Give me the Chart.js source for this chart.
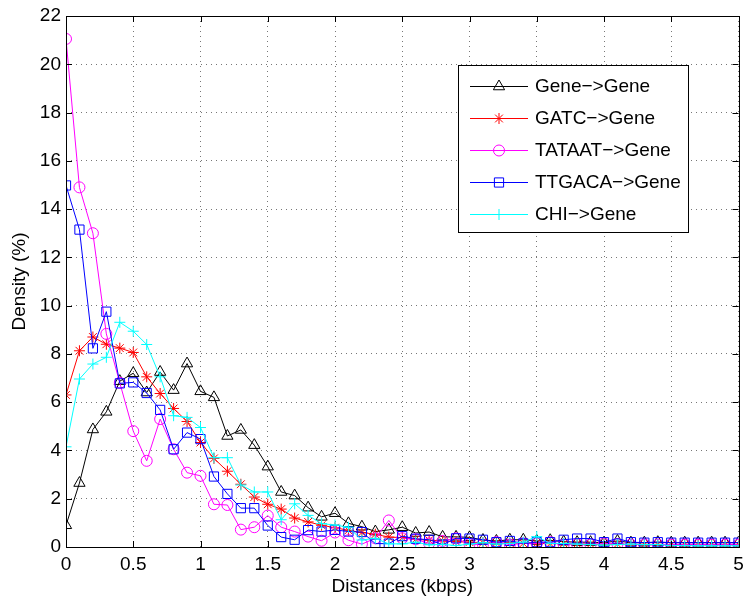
<!DOCTYPE html>
<html>
<head>
<meta charset="utf-8">
<script src="https://cdn.jsdelivr.net/npm/chart.js@4.4.0/dist/chart.umd.min.js"></script>
<style>
  html, body { margin: 0; padding: 0; background: #fff; }
</style>
</head>
<body>
<canvas id="myChart" width="746" height="598"></canvas>
<script>
// distance bins (kbps)
const distances = [
  0, 0.1, 0.2, 0.3, 0.4, 0.5, 0.6, 0.7, 0.8, 0.9,
  1, 1.1, 1.2, 1.3, 1.4, 1.5, 1.6, 1.7, 1.8, 1.9,
  2, 2.1, 2.2, 2.3, 2.4, 2.5, 2.6, 2.7, 2.8, 2.9,
  3, 3.1, 3.2, 3.3, 3.4, 3.5, 3.6, 3.7, 3.8, 3.9,
  4, 4.1, 4.2, 4.3, 4.4, 4.5, 4.6, 4.7, 4.8, 4.9,
  5
];

// density (%) per series
const geneGene = [
  0.9, 2.65, 4.87, 5.6, 6.87, 7.2, 6.4, 7.25, 6.5, 7.6,
  6.45, 6.2, 4.6, 4.85, 4.22, 3.33, 2.28, 2.13, 1.63, 1.25,
  1.4, 0.98, 0.84, 0.64, 0.71, 0.82, 0.58, 0.62, 0.42, 0.42,
  0.4, 0.29, 0.25, 0.3, 0.3, 0.25, 0.28, 0.22, 0.2, 0.2,
  0.18, 0.25, 0.18, 0.18, 0.2, 0.18, 0.18, 0.18, 0.18, 0.18,
  0.18
];
const gatcGene = [
  6.3, 8.13, 8.7, 8.4, 8.24, 8.06, 7.05, 6.36, 5.74, 5.2,
  4.33, 3.67, 3.14, 2.6, 2.07, 1.77, 1.57, 1.2, 1.04, 0.9,
  0.8, 0.69, 0.6, 0.53, 0.41, 0.39, 0.32, 0.28, 0.25, 0.22,
  0.2, 0.18, 0.17, 0.16, 0.15, 0.15, 0.14, 0.14, 0.13, 0.12,
  0.12, 0.12, 0.11, 0.11, 0.11, 0.1, 0.1, 0.1, 0.1, 0.1,
  0.1
];
const tataatGene = [
  21.05, 14.9, 13.0, 8.83, 6.8, 4.8, 3.57, 5.3, 4.05, 3.08,
  2.95, 1.77, 1.74, 0.72, 0.82, 1.3, 0.82, 0.64, 0.43, 0.26,
  0.6, 0.28, 0.12, 0.36, 1.1, 0.36, 0.32, 0.15, 0.25, 0.36,
  0.12, 0.1, 0.2, 0.1, 0.15, 0.15, 0.2, 0.1, 0.12, 0.1,
  0.15, 0.12, 0.1, 0.1, 0.1, 0.1, 0.1, 0.1, 0.1, 0.1,
  0.1
];
const ttgacaGene = [
  14.98, 13.15, 8.23, 9.75, 6.78, 6.82, 6.38, 5.68, 4.05, 4.74,
  4.47, 2.92, 2.2, 1.61, 1.61, 0.89, 0.41, 0.3, 0.7, 0.64,
  0.71, 0.64, 0.62, 0.14, 0.14, 0.45, 0.34, 0.3, 0.1, 0.36,
  0.35, 0.3, 0.2, 0.25, 0.15, 0.2, 0.2, 0.3, 0.35, 0.35,
  0.2, 0.35, 0.2, 0.18, 0.2, 0.18, 0.18, 0.18, 0.18, 0.18,
  0.18
];
const chiGene = [
  4.15, 6.96, 7.58, 7.86, 9.31, 8.94, 8.39, 7.05, 5.44, 5.37,
  4.95, 3.7, 3.7, 2.57, 2.28, 2.28, 1.13, 1.79, 1.31, 0.97,
  0.91, 0.82, 0.29, 0.36, 0.13, 0.13, 0.2, 0.09, 0.11, 0.06,
  0.12, 0.18, 0.12, 0.15, 0.2, 0.43, 0.15, 0.15, 0.12, 0.1,
  0.08, 0.1, 0.12, 0.1, 0.1, 0.06, 0.06, 0.05, 0.05, 0.05,
  0.05
];

const seriesNames = ['Gene\u2212>Gene', 'GATC\u2212>Gene', 'TATAAT\u2212>Gene', 'TTGACA\u2212>Gene', 'CHI\u2212>Gene'];
const seriesValues = [geneGene, gatcGene, tataatGene, ttgacaGene, chiGene];
const seriesColors = ['#000000', '#ff0000', '#ff00ff', '#0000ff', '#00ffff'];
const seriesMarkers = ['triangle', 'star', 'circle', 'rect', 'cross'];
const markerSizes = [6.5, 5.5, 5.5, 6.5, 5.5];

const FONT = '"Liberation Sans", Arial, Helvetica, sans-serif';

function toPoints(vals) {
  return vals.map((v, i) => ({ x: distances[i], y: v }));
}

// box, inward ticks on all sides, legend
const matlabAxes = {
  id: 'matlabAxes',
  afterDatasetsDraw(chart) {
    const { ctx, chartArea: a, scales } = chart;
    ctx.save();
    ctx.strokeStyle = '#000';
    ctx.lineWidth = 1;
    ctx.setLineDash([]);
    const tl = 6;
    ctx.beginPath();
    scales.x.ticks.forEach(t => {
      const px = Math.round(scales.x.getPixelForValue(t.value)) + 0.5;
      ctx.moveTo(px, a.bottom); ctx.lineTo(px, a.bottom - tl);
      ctx.moveTo(px, a.top); ctx.lineTo(px, a.top + tl);
    });
    scales.y.ticks.forEach(t => {
      const py = Math.round(scales.y.getPixelForValue(t.value)) + 0.5;
      ctx.moveTo(a.left, py); ctx.lineTo(a.left + tl, py);
      ctx.moveTo(a.right, py); ctx.lineTo(a.right - tl, py);
    });
    ctx.stroke();
    ctx.strokeRect(Math.round(a.left) + 0.5, Math.round(a.top) + 0.5,
      Math.round(a.right - a.left), Math.round(a.bottom - a.top));

    // legend box
    const lx = 458, ly = 65, lw = 230, lh = 167;
    ctx.fillStyle = '#fff';
    ctx.fillRect(lx, ly, lw, lh);
    ctx.strokeRect(lx + 0.5, ly + 0.5, lw, lh);
    ctx.font = '19px ' + FONT;
    ctx.textBaseline = 'middle';
    seriesNames.forEach((name, i) => {
      const y = ly + 20.5 + i * 32;
      ctx.strokeStyle = seriesColors[i];
      ctx.beginPath();
      ctx.moveTo(470, Math.round(y) + 0.5);
      ctx.lineTo(528, Math.round(y) + 0.5);
      ctx.stroke();
      ctx.fillStyle = 'rgba(0,0,0,0)';
      Chart.helpers.drawPoint(ctx, {
        pointStyle: seriesMarkers[i], radius: markerSizes[i], rotation: 0, borderWidth: 1
      }, 499, Math.round(y) + 0.5);
      ctx.fillStyle = '#000';
      ctx.fillText(name, 535, y + 1);
    });
    ctx.restore();
  }
};

const ctx = document.getElementById('myChart').getContext('2d');
new Chart(ctx, {
  type: 'line',
  data: {
    datasets: seriesValues.map((vals, i) => ({
      label: seriesNames[i],
      data: toPoints(vals),
      borderColor: seriesColors[i],
      borderWidth: 1,
      pointStyle: seriesMarkers[i],
      pointRadius: markerSizes[i],
      pointBorderColor: seriesColors[i],
      pointBackgroundColor: 'rgba(0,0,0,0)',
      pointBorderWidth: 1,
      tension: 0,
      fill: false,
      order: 4 - i
    }))
  },
  options: {
    responsive: false,
    animation: false,
    layout: { padding: { top: 16, right: 5, left: 0, bottom: 0 } },
    plugins: { legend: { display: false }, tooltip: { enabled: false } },
    scales: {
      x: {
        type: 'linear',
        min: 0, max: 5,
        ticks: {
          stepSize: 0.5, color: '#000', padding: 6, maxRotation: 0,
          font: { family: FONT, size: 19 },
          callback: v => String(Math.round(v * 10) / 10)
        },
        grid: { color: '#777', drawTicks: false },
        border: { display: false, dash: [1, 4] },
        title: { display: true, text: 'Distances (kbps)', color: '#000', padding: { top: 2, bottom: 0 }, font: { family: FONT, size: 19 } },
        afterFit(scale) { scale.height = 51; scale.paddingLeft = 0; scale.paddingRight = 0; }
      },
      y: {
        min: 0, max: 22,
        ticks: { stepSize: 2, color: '#000', padding: 5, font: { family: FONT, size: 19 } },
        grid: { color: '#777', drawTicks: false },
        border: { display: false, dash: [1, 4] },
        title: { display: true, text: 'Density (%)', color: '#000', padding: { top: 8, bottom: 0 }, font: { family: FONT, size: 19 } },
        afterFit(scale) { scale.width = 66; scale.paddingTop = 0; scale.paddingBottom = 0; }
      }
    }
  },
  plugins: [matlabAxes]
});
</script>
</body>
</html>
